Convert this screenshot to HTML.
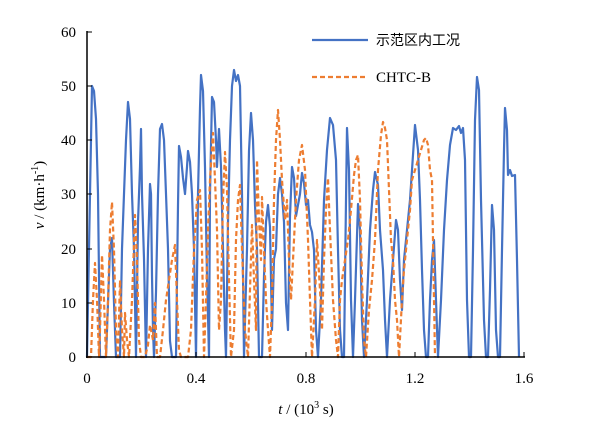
<!DOCTYPE html>
<html><head><meta charset="utf-8"><style>
body{margin:0;background:#fff}
svg text{font-family:"Liberation Serif","Noto Serif CJK SC",serif;font-size:15px;fill:#000}
</style></head><body>
<svg width="604" height="427" viewBox="0 0 604 427">
<g fill="none" stroke-linejoin="round">
<polyline stroke="#4472c4" stroke-width="2.2" points="87,357 90,194 92,86 94,91 96,119 98,194 100,357 106,357 108,303 110,249 112,238 114,303 116,357 120,357 122,249 124,194 126,140 128,102 130,119 132,194 134,249 136,357 138,222 140,167 141,129 142,194 144,259 146,357 148,249 150,184 151,194 152,276 153,330 154,357 156,292 158,194 160,129 162,124 164,140 166,194 168,249 170,341 172,357 176,357 178,205 179,146 181,157 183,178 185,194 187,167 188,151 190,162 192,194 194,249 196,357 198,194 200,108 201,75 203,91 205,167 207,276 209,357 210,194 212,97 214,102 216,140 217,167 219,129 221,167 223,249 225,330 226,357 228,222 230,140 232,86 234,70 236,81 238,75 240,86 242,194 244,357 247,249 249,151 251,113 253,140 255,205 257,249 259,357 262,357 264,276 266,222 268,205 270,227 272,330 274,259 276,249 278,194 280,178 282,194 284,222 286,303 288,330 290,216 292,167 294,178 296,216 298,205 300,194 302,173 304,183 306,205 308,200 310,225 312,232 314,250 316,330 318,357 321,300 324,200 327,150 330,118 333,125 336,160 338,250 340,330 342,357 344,357 346,200 347,128 349,170 351,300 353,357 355,300 358,204 360,230 362,320 364,357 367,300 370,230 373,190 375,172 378,185 380,230 383,270 385,320 387,357 390,300 393,260 396,220 398,230 400,280 402,310 404,260 406,240 408,220 410,200 412,170 415,125 418,150 420,200 422,270 424,330 426,357 428,357 430,300 432,260 434,240 436,300 438,357 441,300 444,230 447,180 450,145 453,128 456,130 459,126 461,133 463,128 465,160 467,300 469,357 471,357 473,250 475,120 477,77 479,90 481,200 484,320 486,357 488,357 490,290 492,205 494,230 496,330 498,357 500,357 502,250 504,150 505,108 507,130 508,175 510,170 512,176 515,175 517,260 519,357"/>
<polyline stroke="#ed7d31" stroke-width="2.2" stroke-dasharray="5,3" points="87,357 91,357 93,300 95,263 97,300 99,357 100,330 102,255 104,300 106,357 108,300 110,230 112,202 114,250 116,330 118,357 120,280 122,330 124,357 125,313 127,340 129,357 132,300 135,215 137,260 139,340 141,357 145,357 148,345 150,325 153,340 155,303 157,357 160,357 163,330 166,300 169,280 172,260 175,245 177,300 179,350 181,357 188,357 191,330 194,250 197,200 200,190 202,250 204,357 206,300 208,230 210,180 213,133 215,180 217,230 219,330 221,300 223,200 225,152 227,190 229,280 231,357 234,330 236,240 238,200 240,185 242,250 245,330 248,357 250,290 252,225 254,280 256,330 257,160 259,220 261,260 262,197 264,250 266,300 268,330 270,357 272,300 274,200 276,140 278,110 280,140 282,180 285,220 287,200 289,260 291,300 293,260 296,200 299,160 302,145 305,170 308,240 310,300 312,357 315,300 317,240 320,290 322,330 324,260 326,210 328,178 330,230 333,300 336,340 338,357 340,300 342,280 345,260 348,240 351,210 354,175 356,160 358,155 360,200 362,280 364,340 366,357 369,310 372,280 375,240 378,170 381,135 383,122 385,128 387,140 389,190 391,240 393,260 395,300 397,320 399,357 402,300 404,270 407,240 410,210 412,180 415,170 418,160 421,150 424,140 426,138 428,145 430,170 432,180 434,300 435,357"/>
</g>
<g stroke="#000" stroke-width="1.5">
<line x1="87" y1="31" x2="87" y2="358"/>
<line x1="86" y1="357" x2="525" y2="357"/>
</g>
<g stroke="#000" stroke-width="1">
<line x1="87" y1="32" x2="92" y2="32"/><line x1="87" y1="86" x2="92" y2="86"/><line x1="87" y1="140" x2="92" y2="140"/><line x1="87" y1="194" x2="92" y2="194"/><line x1="87" y1="249" x2="92" y2="249"/><line x1="87" y1="303" x2="92" y2="303"/>
<line x1="196" y1="357" x2="196" y2="352"/><line x1="306" y1="357" x2="306" y2="352"/><line x1="415" y1="357" x2="415" y2="352"/><line x1="524" y1="357" x2="524" y2="352"/>
</g>
<g text-anchor="end">
<text x="76" y="37">60</text><text x="76" y="91">50</text><text x="76" y="145">40</text><text x="76" y="199">30</text><text x="76" y="254">20</text><text x="76" y="308">10</text><text x="76" y="362">0</text>
</g>
<g text-anchor="middle">
<text x="87" y="383">0</text><text x="196" y="383">0.4</text><text x="306" y="383">0.8</text><text x="415" y="383">1.2</text><text x="524" y="383">1.6</text>
<text x="306" y="414"><tspan font-style="italic">t</tspan> / (10<tspan font-size="10" dy="-6">3</tspan><tspan dy="6"> s)</tspan></text>
<text transform="translate(44,195) rotate(-90)"><tspan font-style="italic">v</tspan> / (km·h<tspan font-size="10" dy="-6">-1</tspan><tspan dy="6">)</tspan></text>
</g>
<line x1="312" y1="40" x2="368" y2="40" stroke="#4472c4" stroke-width="2.2"/>
<text x="376" y="45" style="font-family:'Noto Sans CJK SC',sans-serif;font-size:14px">示范区内工况</text>
<line x1="312" y1="77" x2="368" y2="77" stroke="#ed7d31" stroke-width="2.2" stroke-dasharray="5,3"/>
<text x="376" y="82">CHTC-B</text>
</svg>
</body></html>
